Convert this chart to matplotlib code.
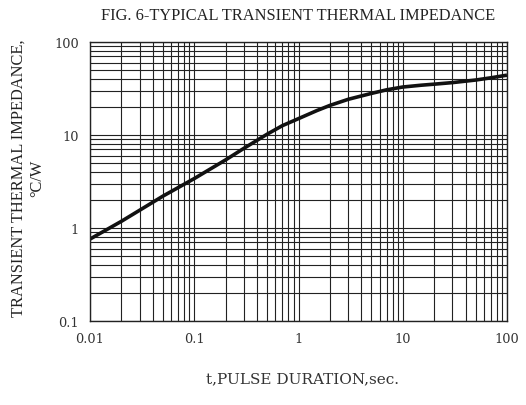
import matplotlib
matplotlib.use("Agg")
import matplotlib.pyplot as plt
from matplotlib.ticker import LogLocator, NullFormatter, FixedLocator, FixedFormatter

# 読み取り値（図から推定）
pulse_t = [0.01, 0.02, 0.05, 0.1, 0.2, 0.3, 0.5, 0.7, 1, 1.5, 2, 3, 5, 7, 10, 15, 20, 30, 50, 70, 100]
impedance = [0.76, 1.18, 2.2, 3.4, 5.4, 7.2, 10.2, 12.6, 15, 18.3, 20.8, 24.2, 28, 30.6, 32.8, 34.3, 35.2, 36.6, 39.0, 41.2, 44]

x_ticks = [0.01, 0.1, 1, 10, 100]
x_labels = ["0.01", "0.1", "1", "10", "100"]
y_ticks = [0.1, 1, 10, 100]
y_labels = ["0.1", "1", "10", "100"]

plt.rcParams["font.family"] = ["Liberation Serif", "DejaVu Serif"]

fig = plt.figure(figsize=(5.26, 4.06), dpi=100)
ax = fig.add_axes([90 / 526, 1 - 322 / 406, 417 / 526, 279 / 406])

ax.plot(pulse_t, impedance, color="#111111", lw=2.6, solid_capstyle="butt",
        solid_joinstyle="round")

ax.set_xscale("log")
ax.set_yscale("log")
ax.set_xlim(0.01, 100)
ax.set_ylim(0.1, 100)

ax.xaxis.set_major_locator(FixedLocator(x_ticks))
ax.xaxis.set_major_formatter(FixedFormatter(x_labels))
ax.yaxis.set_major_locator(FixedLocator(y_ticks))
ax.yaxis.set_major_formatter(FixedFormatter(y_labels))
for axis in (ax.xaxis, ax.yaxis):
    axis.set_minor_locator(LogLocator(base=10, subs=range(2, 10)))
    axis.set_minor_formatter(NullFormatter())

ax.grid(True, which="both", color="#222222", lw=0.8)
ax.tick_params(which="both", length=0, labelsize=9.3, colors="#333333")
for lbl in ax.get_xticklabels() + ax.get_yticklabels():
    lbl.set_family("DejaVu Serif")
ax.tick_params(axis="x", pad=8)
ax.tick_params(axis="y", pad=8)
for s in ax.spines.values():
    s.set_color("#222222")
    s.set_linewidth(1.0)

fig.text(298 / 526, 1 - 16 / 406, "FIG. 6-TYPICAL TRANSIENT THERMAL IMPEDANCE",
         ha="center", va="center", fontsize=11.8, color="#222222")
fig.text(302 / 526, 1 - 379 / 406, "t,PULSE DURATION,sec.",
         ha="center", va="center", fontsize=11, color="#333333",
         family="DejaVu Serif")
fig.text(28 / 526, 1 - 178 / 406, "TRANSIENT THERMAL IMPEDANCE,\n°C/W",
         ha="center", va="center", rotation=90, fontsize=11.8, color="#222222",
         linespacing=1.15)

fig.savefig("out.png", dpi=100)
